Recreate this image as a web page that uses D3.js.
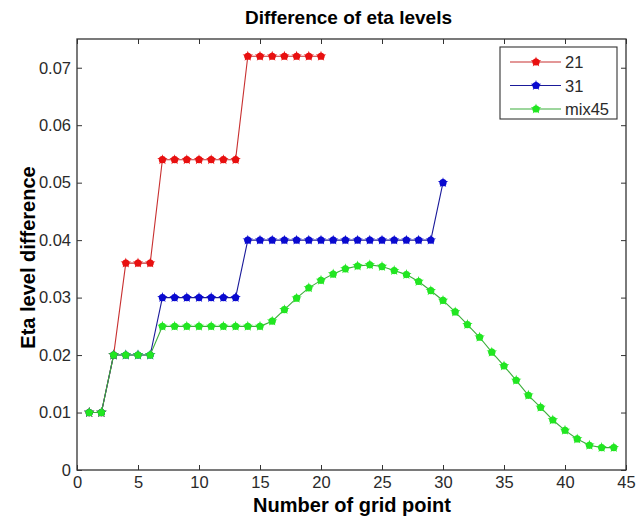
<!DOCTYPE html>
<html><head><meta charset="utf-8">
<script src="https://cdn.jsdelivr.net/npm/d3@7"></script>
<style>body{margin:0;background:#fff}svg{display:block}text{font-family:"Liberation Sans",Arial,sans-serif}</style>
</head><body><svg id="c" width="636" height="522"></svg>
<script>
const xTicks = [0,5,10,15,20,25,30,35,40,45];
const yTicks = [0,0.01,0.02,0.03,0.04,0.05,0.06,0.07];
const yTickLabels = ["0","0.01","0.02","0.03","0.04","0.05","0.06","0.07"];
const seriesNames = ["21","31","mix45"];
const x21 = [1,2,3,4,5,6,7,8,9,10,11,12,13,14,15,16,17,18,19,20];
const y21 = [0.01,0.01,0.02,0.036,0.036,0.036,0.054,0.054,0.054,0.054,0.054,0.054,0.054,0.072,0.072,0.072,0.072,0.072,0.072,0.072];
const x31 = [1,2,3,4,5,6,7,8,9,10,11,12,13,14,15,16,17,18,19,20,21,22,23,24,25,26,27,28,29,30];
const y31 = [0.01,0.01,0.02,0.02,0.02,0.02,0.03,0.03,0.03,0.03,0.03,0.03,0.03,0.04,0.04,0.04,0.04,0.04,0.04,0.04,0.04,0.04,0.04,0.04,0.04,0.04,0.04,0.04,0.04,0.05];
const xMix = [1,2,3,4,5,6,7,8,9,10,11,12,13,14,15,16,17,18,19,20,21,22,23,24,25,26,27,28,29,30,31,32,33,34,35,36,37,38,39,40,41,42,43,44];
const yMix = [0.01,0.01,0.02,0.02,0.02,0.02,0.025,0.025,0.025,0.025,0.025,0.025,0.025,0.025,0.025,0.0259,0.0279,0.0299,0.0317,0.0330,0.0341,0.0350,0.0355,0.0357,0.0354,0.0347,0.0340,0.0328,0.0312,0.0295,0.0275,0.0253,0.0231,0.0205,0.0181,0.0156,0.0130,0.0109,0.0087,0.0069,0.0054,0.0043,0.0039,0.0039];

const L=77,R=626,T=39,B=470;
const svg=d3.select("#c");
const x=d3.scaleLinear().domain([0,45]).range([L,R]);
const y=d3.scaleLinear().domain([0,0.075]).range([B,T]);
const axisCol="#333", tickCol="#2a2a2a";

const g=svg.append("g");
g.append("g").attr("transform",`translate(0,${B})`).call(d3.axisBottom(x).tickValues(xTicks).tickSizeInner(-5).tickSizeOuter(0).tickPadding(6).tickFormat(d3.format("d")));
g.append("g").attr("transform",`translate(0,${T})`).call(d3.axisTop(x).tickValues(xTicks).tickSizeInner(-5).tickSizeOuter(0).tickFormat(""));
g.append("g").attr("transform",`translate(${L},0)`).call(d3.axisLeft(y).tickValues(yTicks).tickSizeInner(-5).tickSizeOuter(0).tickPadding(6).tickFormat((d,i)=>yTickLabels[i]));
g.append("g").attr("transform",`translate(${R},0)`).call(d3.axisRight(y).tickValues(yTicks).tickSizeInner(-5).tickSizeOuter(0).tickFormat(""));
g.selectAll(".domain").remove();
g.selectAll(".tick line").attr("stroke",axisCol);
g.selectAll(".tick text").attr("fill",tickCol).style("font-size","16.5px");
svg.append("rect").attr("x",L).attr("y",T).attr("width",R-L).attr("height",B-T).attr("fill","none").attr("stroke",axisCol).attr("stroke-width",1.3);

const series=[
 {name:seriesNames[0],xs:x21,ys:y21,line:"#c83030",mark:"#e81010"},
 {name:seriesNames[1],xs:x31,ys:y31,line:"#1a1a9a",mark:"#0a0ad0"},
 {name:seriesNames[2],xs:xMix,ys:yMix,line:"#3cae3c",mark:"#22e622"}
];
const line=d3.line().x(d=>x(d[0])).y(d=>y(d[1]));
const star=d3.symbol().type(d3.symbolStar).size(34);
function marker(sel,s){
  sel.append("circle").attr("r",3.6).attr("fill",s.mark);
  sel.append("path").attr("d",star).attr("fill",s.mark);
}
series.forEach(s=>{
  const pts=s.xs.map((v,i)=>[v,s.ys[i]]);
  svg.append("path").datum(pts).attr("d",line).attr("fill","none").attr("stroke",s.line).attr("stroke-width",1.1);
  svg.append("g").selectAll("g").data(pts).join("g").attr("transform",d=>`translate(${x(d[0])},${y(d[1])})`).each(function(){marker(d3.select(this),s);});
});

const lg=svg.append("g");
lg.append("rect").attr("x",500).attr("y",47).attr("width",117).attr("height",72).attr("fill","#fff").attr("stroke",axisCol).attr("stroke-width",1.1);
series.forEach((s,i)=>{
  const yy=62+i*23.5;
  lg.append("line").attr("x1",510).attr("x2",561).attr("y1",yy).attr("y2",yy).attr("stroke",s.line).attr("stroke-width",1.1);
  marker(lg.append("g").attr("transform",`translate(536,${yy})`),s);
  lg.append("text").attr("x",565).attr("y",yy+6).text(s.name).attr("fill",tickCol).style("font-size","16.5px");
});

svg.append("text").attr("x",348.5).attr("y",24).attr("text-anchor","middle").style("font-size","19px").style("font-weight","bold").text("Difference of eta levels");
svg.append("text").attr("x",352).attr("y",512).attr("text-anchor","middle").style("font-size","20px").style("font-weight","bold").text("Number of grid point");
svg.append("text").attr("transform",`translate(35,${(T+B)/2+3}) rotate(-90)`).attr("text-anchor","middle").style("font-size","20px").style("font-weight","bold").text("Eta level difference");
</script></body></html>
